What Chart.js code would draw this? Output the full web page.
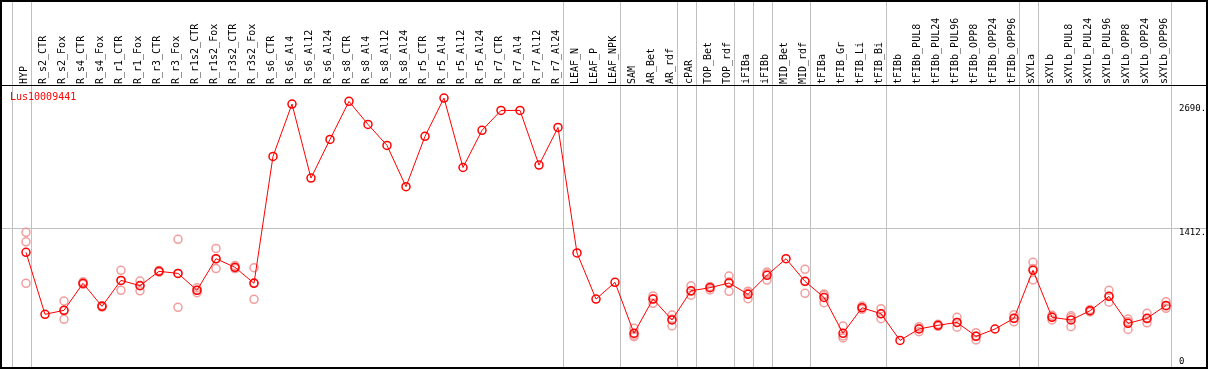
<!DOCTYPE html>
<html>
<head>
<meta charset="utf-8">
<script src="https://cdn.jsdelivr.net/npm/chart.js@4.4.1/dist/chart.umd.min.js"></script>
<style>
  html, body { margin: 0; padding: 0; background: #fff; }
  canvas { display: block; }
</style>
</head>
<body>
<canvas id="exprChart" width="1209" height="370"></canvas>
<script>
const geneId = 'Lus10009441';

const categories = [
  'HYP', 'R_s2_CTR', 'R_s2_Fox', 'R_s4_CTR', 'R_s4_Fox', 'R_r1_CTR', 'R_r1_Fox', 'R_r3_CTR', 'R_r3_Fox',
  'R_r1s2_CTR', 'R_r1s2_Fox', 'R_r3s2_CTR', 'R_r3s2_Fox', 'R_s6_CTR', 'R_s6_Al4', 'R_s6_Al12', 'R_s6_Al24',
  'R_s8_CTR', 'R_s8_Al4', 'R_s8_Al12', 'R_s8_Al24', 'R_r5_CTR', 'R_r5_Al4', 'R_r5_Al12', 'R_r5_Al24',
  'R_r7_CTR', 'R_r7_Al4', 'R_r7_Al12', 'R_r7_Al24', 'LEAF_N', 'LEAF_P', 'LEAF_NPK', 'SAM', 'AR_Bet', 'AR_rdf',
  'cPAR', 'TOP_Bet', 'TOP_rdf', 'iFIBa', 'iFIBb', 'MID_Bet', 'MID_rdf', 'tFIBa', 'tFIB_Gr', 'tFIB_Li', 'tFIB_Bi',
  'tFIBb', 'tFIBb_PUL8', 'tFIBb_PUL24', 'tFIBb_PUL96', 'tFIBb_OPP8', 'tFIBb_OPP24', 'tFIBb_OPP96',
  'sXYLa', 'sXYLb', 'sXYLb_PUL8', 'sXYLb_PUL24', 'sXYLb_PUL96', 'sXYLb_OPP8', 'sXYLb_OPP24', 'sXYLb_OPP96'
];

// mean expression per sample
const means = [
  1165, 527, 568, 846, 609, 876, 821, 969, 948,
  774, 1099, 1010, 846, 2151, 2689, 1928, 2326,
  2717, 2480, 2264, 1840, 2357, 2751, 2037, 2419,
  2624, 2624, 2062, 2449, 1158, 684, 856, 332, 684, 469,
  769, 801, 849, 733, 928, 1099, 866, 701, 332, 595, 533,
  259, 376, 414, 444, 301, 376, 486,
  980, 496, 469, 564, 712, 434, 486, 619
];

// individual replicates (null = no replicate shown)
const rep1 = [
  1370, null, 664, 861, 617, 979, 869, 978, 1298, 800, 1205, 1029, 1006,
  null, null, null, null, null, null, null, null, null, null, null, null, null, null, null, null,
  null, null, null, 383, 716, 520, 821, 811, 921, 765, 962, null, 990, 736, 407, 578, 585,
  null, 400, 424, 496, 338, null, 523, 1062, 517, 512, 576, 774, 479, 537, 657
];
const rep2 = [
  1273, null, 476, 836, 602, 774, 769, 960, 599, 749, 997, 1003, 681,
  null, null, null, null, null, null, null, null, null, null, null, null, null, null, null, null,
  null, null, null, 297, 640, 407, 723, 777, 763, 687, 879, null, 743, 647, 284, 612, 482,
  null, 348, 404, 394, 263, null, 450, 880, 469, 400, 551, 651, 371, 440, 589
];
const rep3 = [
  846, null, 566, 841, 607, 876, 825, 968, 948, 774, 1095, 998, 851,
  null, null, null, null, null, null, null, null, null, null, null, null, null, null, null, null,
  null, null, null, 312, 688, 480, 764, 810, 861, 746, 943, null, 865, 722, 304, 594, 532,
  null, 381, 414, 443, 303, null, 485, 997, 503, 494, 565, 711, 452, 481, 612
];

// last sample index of each tissue group (-1 = left edge)
const groupEnds = [-1, 0, 28, 31, 34, 35, 37, 38, 39, 41, 45, 52, 53, 60];
const tickValues = [0, 1412, 2690];
const gridValues = [1412];

const toPoints = arr => arr.map((v, i) => ({ x: i, y: v })).filter(p => p.y !== null);

const repStyle = {
  showLine: false,
  borderColor: 'rgba(238, 140, 140, 0.85)',
  backgroundColor: 'rgba(0,0,0,0)',
  pointRadius: 4,
  pointBorderWidth: 1.5,
  order: 2
};

const framePlugin = {
  id: 'frame',
  beforeDraw(chart) {
    const ctx = chart.ctx;
    ctx.save();
    ctx.fillStyle = '#fff';
    ctx.fillRect(0, 0, chart.width, chart.height);
    ctx.restore();
  },
  beforeDatasetsDraw(chart) {
    const { ctx, chartArea, scales } = chart;
    ctx.save();
    ctx.strokeStyle = '#c0c0c0';
    ctx.lineWidth = 1;
    groupEnds.forEach(g => {
      const x = Math.round(scales.x.getPixelForValue(g + 5 / 19)) + 0.5;
      ctx.beginPath();
      ctx.moveTo(x, 0);
      ctx.lineTo(x, chartArea.bottom);
      ctx.stroke();
    });
    gridValues.forEach(v => {
      const y = Math.round(scales.y.getPixelForValue(v)) + 0.5;
      ctx.beginPath();
      ctx.moveTo(chartArea.left, y);
      ctx.lineTo(chartArea.right, y);
      ctx.stroke();
    });
    ctx.restore();
  },
  afterDraw(chart) {
    const { ctx, chartArea, scales } = chart;
    ctx.save();
    // right-hand value labels, inside the plot
    ctx.fillStyle = '#000';
    ctx.font = '9px "DejaVu Sans Mono"';
    ctx.textAlign = 'left';
    ctx.textBaseline = 'top';
    tickValues.forEach(v => {
      const y = Math.min(scales.y.getPixelForValue(v), chartArea.bottom - 11);
      ctx.fillText(v === 0 ? '0' : v + '.', chartArea.right - 27, y);
    });
    // gene name
    ctx.fillStyle = '#ff0000';
    ctx.font = '10px "DejaVu Sans Mono"';
    ctx.textBaseline = 'middle';
    ctx.fillText(geneId, 10, chartArea.top + 11);
    // black frame
    ctx.strokeStyle = '#000';
    ctx.lineWidth = 2;
    ctx.strokeRect(1, 1, chart.width - 3, chart.height - 3);
    ctx.lineWidth = 1;
    ctx.beginPath();
    ctx.moveTo(0, chartArea.top - 0.5);
    ctx.lineTo(chart.width - 1, chartArea.top - 0.5);
    ctx.stroke();
    ctx.restore();
  }
};

new Chart(document.getElementById('exprChart'), {
  type: 'scatter',
  data: {
    datasets: [
      {
        label: geneId,
        data: toPoints(means),
        showLine: true,
        borderColor: '#ff0000',
        borderWidth: 1,
        backgroundColor: 'rgba(0,0,0,0)',
        pointBorderColor: '#ff0000',
        pointRadius: 4,
        pointBorderWidth: 1.5,
        tension: 0,
        order: 1
      },
      { label: 'rep1', data: toPoints(rep1), ...repStyle },
      { label: 'rep2', data: toPoints(rep2), ...repStyle },
      { label: 'rep3', data: toPoints(rep3), ...repStyle }
    ]
  },
  options: {
    responsive: false,
    animation: false,
    devicePixelRatio: 1,
    layout: { autoPadding: false, padding: { left: 2, right: 3, top: 1, bottom: 2 } },
    plugins: {
      legend: { display: false },
      tooltip: { enabled: false }
    },
    scales: {
      x: {
        type: 'linear',
        position: 'top',
        min: -1.263,
        max: 62.105,
        afterBuildTicks: scale => {
          scale.ticks = categories.map((_, i) => ({ value: i }));
        },
        afterFit: scale => {
          scale.height = 85;
          scale.paddingLeft = 0;
          scale.paddingRight = 0;
        },
        grid: { display: false, drawTicks: false },
        border: { display: false },
        ticks: {
          autoSkip: false,
          minRotation: 90,
          maxRotation: 90,
          padding: 2,
          labelOffset: 10,
          color: '#000',
          font: { family: '"DejaVu Sans Mono"', size: 10 },
          callback: v => categories[v]
        }
      },
      y: {
        display: false,
        min: -25,
        max: 2875
      }
    }
  },
  plugins: [framePlugin]
});
</script>
</body>
</html>
